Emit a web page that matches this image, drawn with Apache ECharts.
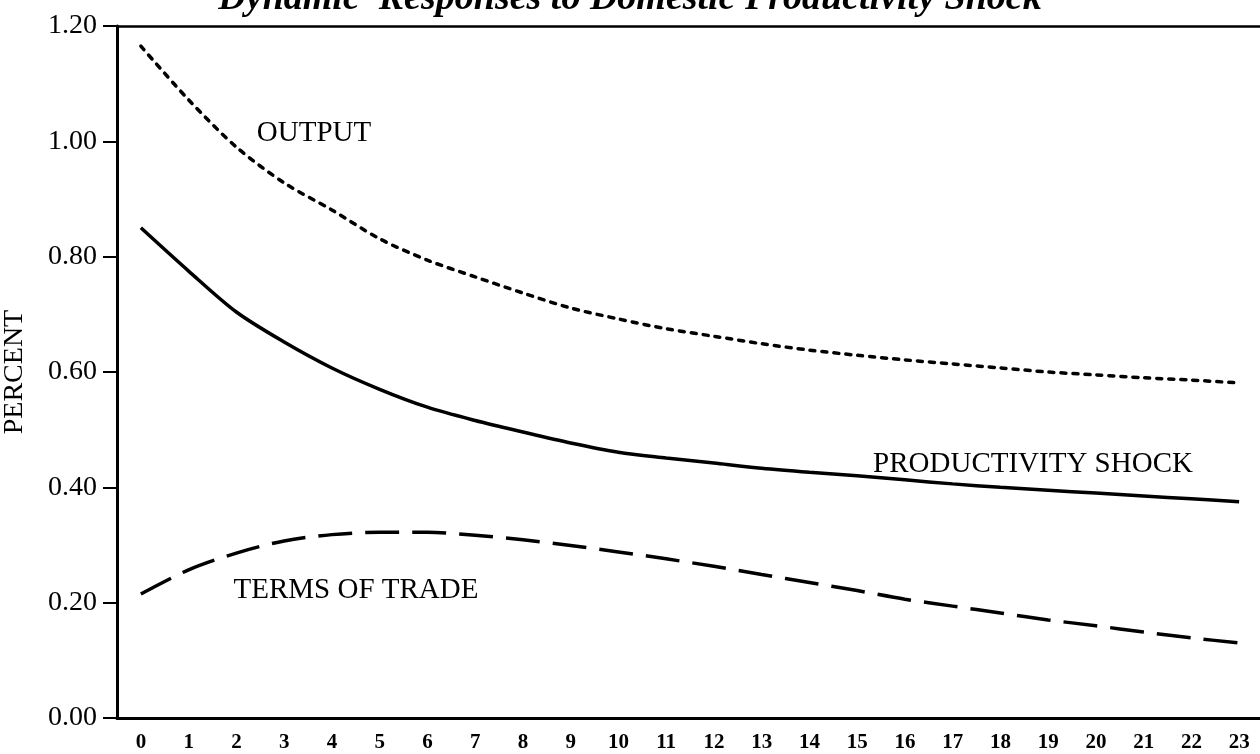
<!DOCTYPE html>
<html lang="en" style="height: 100%">
<head>
    <meta charset="UTF-8">
    <title>Dynamic Responses to Domestic Productivity Shock</title>
</head>
<body style="height: 100%; margin: 0; background: #fff">
<div id="container" style="width: 1260px; height: 754px"></div>
<script src="https://cdn.jsdelivr.net/npm/echarts@6/dist/echarts.min.js"></script>
<script>
    // periods after the shock
    var periods = ['0', '1', '2', '3', '4', '5', '6', '7', '8', '9', '10', '11',
        '12', '13', '14', '15', '16', '17', '18', '19', '20', '21', '22', '23'];

    var output = [1.165, 1.072, 0.990, 0.928, 0.881, 0.831, 0.794, 0.765, 0.737, 0.711, 0.692, 0.675,
        0.662, 0.649, 0.638, 0.629, 0.621, 0.614, 0.607, 0.600, 0.595, 0.590, 0.586, 0.581];

    var productivity = [0.850, 0.775, 0.704, 0.652, 0.607, 0.570, 0.539, 0.516, 0.496, 0.477, 0.461, 0.451,
        0.442, 0.433, 0.426, 0.420, 0.413, 0.406, 0.400, 0.395, 0.390, 0.385, 0.380, 0.375];

    var termsOfTrade = [0.215, 0.257, 0.286, 0.307, 0.318, 0.322, 0.322, 0.317, 0.309, 0.299, 0.288, 0.276,
        0.263, 0.249, 0.235, 0.221, 0.206, 0.194, 0.182, 0.170, 0.160, 0.149, 0.139, 0.130];

    var serif = '"Liberation Serif", "DejaVu Serif", serif';

    var chart = echarts.init(document.getElementById('container'));

    var option = {
        backgroundColor: '#fff',
        animation: false,
        grid: {
            left: 117,
            top: 26,
            width: 1146,
            height: 692,
            outerBoundsMode: 'none',
            containLabel: false
        },
        xAxis: [
            {
                type: 'category',
                data: periods,
                boundaryGap: true,
                axisLine: {lineStyle: {color: '#000', width: 3}},
                axisTick: {length: 6, lineStyle: {color: '#000', width: 2}},
                axisLabel: {
                    color: '#000',
                    fontFamily: serif,
                    fontWeight: 'bold',
                    fontSize: 21,
                    margin: 14
                },
                splitLine: {show: false}
            },
            {
                // top frame line only
                type: 'category',
                data: periods,
                position: 'top',
                axisLine: {lineStyle: {color: '#000', width: 2.5}},
                axisTick: {show: false},
                axisLabel: {show: false},
                splitLine: {show: false}
            }
        ],
        yAxis: {
            type: 'value',
            min: 0,
            max: 1.2,
            interval: 0.2,
            name: 'PERCENT',
            nameLocation: 'middle',
            nameGap: 88,
            nameTextStyle: {color: '#000', fontFamily: serif, fontSize: 28},
            axisLine: {show: true, lineStyle: {color: '#000', width: 3}},
            axisTick: {show: true, length: 14, lineStyle: {color: '#000', width: 2}},
            axisLabel: {
                color: '#000',
                fontFamily: serif,
                fontSize: 28,
                margin: 20,
                formatter: function (v) {
                    return v.toFixed(2);
                }
            },
            splitLine: {show: false}
        },
        series: [
            {
                name: 'OUTPUT',
                type: 'line',
                data: output,
                smooth: 0.3,
                symbol: 'none',
                lineStyle: {color: '#000', width: 3.5, type: [5, 7], cap: 'round'}
            },
            {
                name: 'PRODUCTIVITY SHOCK',
                type: 'line',
                data: productivity,
                smooth: 0.3,
                symbol: 'none',
                lineStyle: {color: '#000', width: 3.5, type: 'solid'}
            },
            {
                name: 'TERMS OF TRADE',
                type: 'line',
                data: termsOfTrade,
                smooth: 0.3,
                symbol: 'none',
                lineStyle: {color: '#000', width: 3.5, type: [34, 13]}
            }
        ],
        graphic: [
            {
                type: 'text', left: 'center', top: -20,
                style: {
                    text: 'Dynamic  Responses to Domestic Productivity Shock',
                    font: 'italic bold 38px ' + serif,
                    fill: '#000'
                }
            },
            {
                type: 'text', x: 314, y: 133,
                style: {
                    text: 'OUTPUT', font: '29px ' + serif, fill: '#000',
                    align: 'center', verticalAlign: 'middle'
                }
            },
            {
                type: 'text', x: 1033, y: 464,
                style: {
                    text: 'PRODUCTIVITY SHOCK', font: '29px ' + serif, fill: '#000',
                    align: 'center', verticalAlign: 'middle'
                }
            },
            {
                type: 'text', x: 356, y: 590,
                style: {
                    text: 'TERMS OF TRADE', font: '29px ' + serif, fill: '#000',
                    align: 'center', verticalAlign: 'middle'
                }
            }
        ]
    };

    chart.setOption(option);
</script>
</body>
</html>
